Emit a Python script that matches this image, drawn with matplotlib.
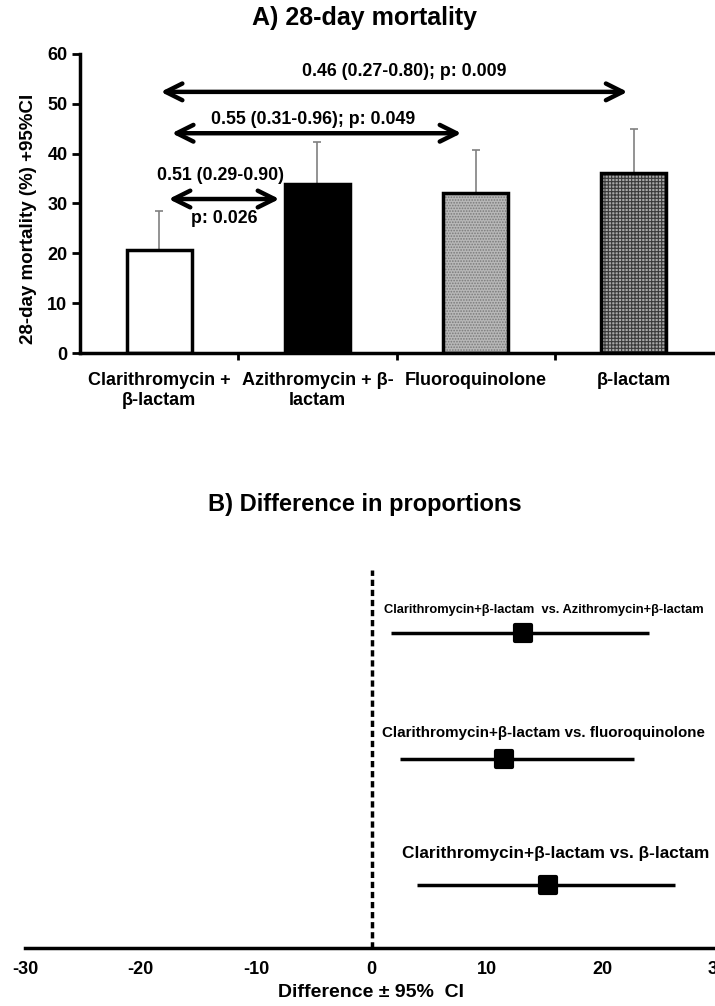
import numpy as np
import matplotlib
matplotlib.use("Agg")
import matplotlib.pyplot as plt
from matplotlib.markers import MarkerStyle

plt.rcParams['font.family'] = ['Liberation Sans', 'DejaVu Sans']
plt.rcParams['font.weight'] = 'bold'
plt.rcParams['hatch.linewidth'] = 0.8
plt.rcParams['axes.unicode_minus'] = False

# panel A data
groups = ['Clarithromycin +\nβ-lactam', 'Azithromycin + β-\nlactam',
          'Fluoroquinolone', 'β-lactam']
mortality = [20.7, 33.9, 32.1, 36.1]
ci_upper = [28.5, 42.4, 40.8, 45.0]
bar_faces = ['white', 'black', '#b8b8b8', '#a8a8a8']
bar_hatch = [None, None, '......', '+++++']
hatch_cols = ['white', 'black', '#7a7a7a', '#3a3a3a']

# comparisons between groups
comp_from = [0.01, 0.08, 0.06]
comp_to = [2.96, 1.91, 0.76]
comp_y = [52.4, 44.1, 30.9]
comp_text = ['0.46 (0.27-0.80); p: 0.009', '0.55 (0.31-0.96); p: 0.049',
             '0.51 (0.29-0.90)']
comp_tx = [1.55, 0.97, 0.39]
comp_ty = [56.4, 46.8, 35.7]

# panel B data
diff_labels = ['Clarithromycin+β-lactam  vs. Azithromycin+β-lactam',
               'Clarithromycin+β-lactam vs. fluoroquinolone',
               'Clarithromycin+β-lactam vs. β-lactam']
diff_mean = [13.1, 11.5, 15.3]
diff_lo = [1.7, 2.5, 3.9]
diff_hi = [24.0, 22.7, 26.3]
diff_y = [2.5, 1.5, 0.5]
lab_x = [1.1, 0.95, 2.6]
lab_y = [2.68, 1.71, 0.75]
lab_size = [9.3, 10.9, 12.4]

fig = plt.figure(figsize=(7.15, 10.06), dpi=100)

# ---- A ----
ax1 = fig.add_axes([80/715, 1-353/1006, (713-80)/715, (353-54)/1006])
x = np.arange(len(groups))
for i in range(len(x)):
    ax1.bar(x[i], mortality[i], 0.41, color=bar_faces[i],
            edgecolor=hatch_cols[i], lw=0, hatch=bar_hatch[i], zorder=2)
ax1.bar(x, mortality, 0.41, fill=False, edgecolor='black', lw=2.5, zorder=3)
up = np.array(ci_upper) - np.array(mortality)
ax1.errorbar(x, mortality, yerr=[np.zeros(len(x)), up], fmt='none',
             ecolor='#808080', elinewidth=1.2, capsize=3, capthick=1.2, zorder=1)

for i in range(len(comp_y)):
    ax1.annotate('', xy=(comp_to[i], comp_y[i]), xytext=(comp_from[i], comp_y[i]),
                 arrowprops=dict(arrowstyle='<->', lw=3.2, color='black',
                                 mutation_scale=30, shrinkA=0, shrinkB=0))
    ax1.text(comp_tx[i], comp_ty[i], comp_text[i], ha='center', va='center',
             fontsize=12.8, fontweight='bold')
ax1.text(0.41, 27.0, 'p: 0.026', ha='center', va='center', fontsize=12.8,
         fontweight='bold')

ax1.set_xlim(-0.5, 3.5)
ax1.set_ylim(0, 60)
ax1.set_yticks([0, 10, 20, 30, 40, 50, 60])
ax1.set_xticks(x)
ax1.set_xticklabels(groups, fontsize=13, fontweight='bold', linespacing=1.2)
ax1.set_xticks([0.5, 1.5, 2.5], minor=True)
ax1.tick_params(axis='x', which='major', length=0, pad=14)
ax1.tick_params(axis='x', which='minor', length=5, width=2, direction='out')
ax1.tick_params(axis='y', length=6, width=2, direction='out', labelsize=13, pad=3)
for s in ['top', 'right']:
    ax1.spines[s].set_visible(False)
for s in ['left', 'bottom']:
    ax1.spines[s].set_linewidth(2.5)
ax1.set_ylabel('28-day mortality (%) +95%CI', fontsize=13.5, fontweight='bold')
ax1.yaxis.set_label_coords(-0.068, 0.45)
fig.text(365/715, 1-18/1006, 'A) 28-day mortality', ha='center', va='center',
         fontsize=18, fontweight='bold')

# ---- B ----
ax2 = fig.add_axes([25/715, 1-948/1006, 693/715, 378/1006])
ax2.axvline(0, color='black', lw=2.5, ls=(0, (1.8, 1.1)))
ax2.hlines(diff_y, diff_lo, diff_hi, color='black', lw=2.5)
ax2.plot(diff_mean, diff_y, ls='none', marker=MarkerStyle('s', joinstyle='round'),
         ms=12, mfc='black', mec='black', mew=3)
for i in range(len(diff_labels)):
    ax2.text(lab_x[i], lab_y[i], diff_labels[i], ha='left', va='center',
             fontsize=lab_size[i], fontweight='bold')
ax2.set_xlim(-30, 30)
ax2.set_ylim(0, 3)
ax2.set_xticks([-30, -20, -10, 0, 10, 20, 30])
ax2.set_yticks([])
ax2.tick_params(axis='x', length=0, pad=9, labelsize=13)
for s in ['top', 'right', 'left']:
    ax2.spines[s].set_visible(False)
ax2.spines['bottom'].set_linewidth(2.5)
ax2.set_xlabel('Difference ± 95%  CI', fontsize=14, fontweight='bold', labelpad=5)
fig.text(365/715, 1-505/1006, 'B) Difference in proportions', ha='center',
         va='center', fontsize=17, fontweight='bold')

fig.savefig('out.png', dpi=100)
